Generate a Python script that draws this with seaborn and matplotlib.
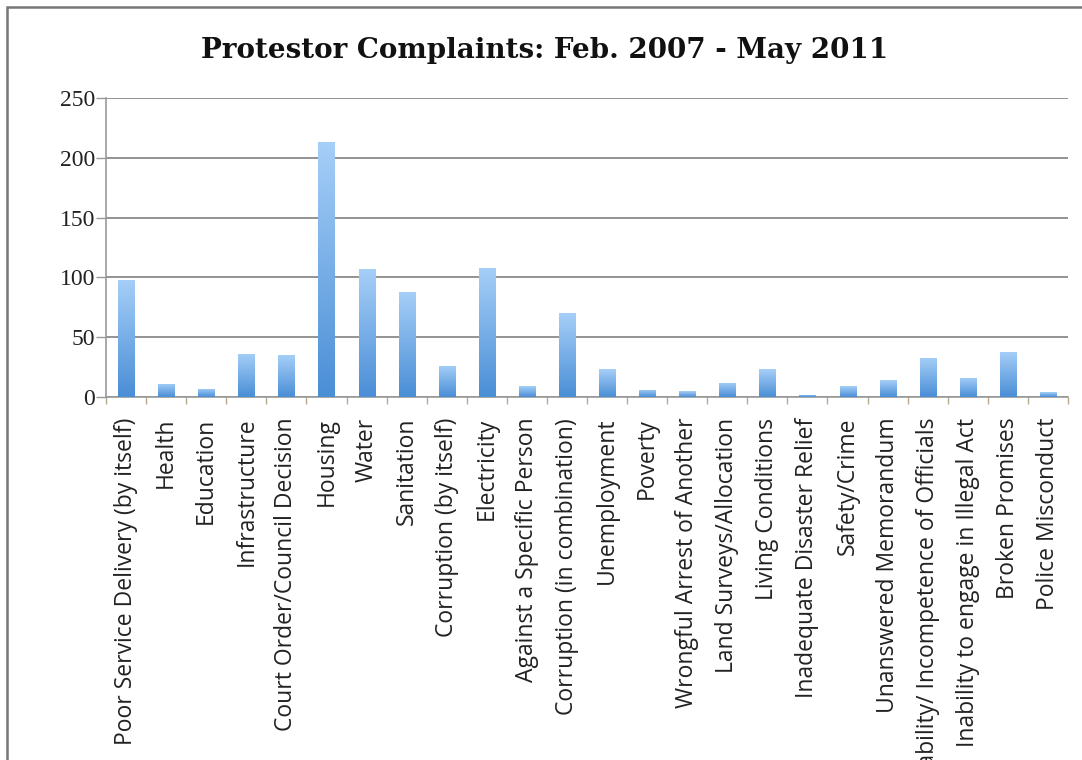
import numpy as np
import pandas as pd
import matplotlib
matplotlib.use("Agg")
import matplotlib.pyplot as plt
import seaborn as sns
from matplotlib.patches import Rectangle
from matplotlib.colors import LinearSegmentedColormap

categories = [
    "Poor Service Delivery (by itself)", "Health", "Education", "Infrastructure",
    "Court Order/Council Decision", "Housing", "Water", "Sanitation",
    "Corruption (by itself)", "Electricity", "Against a Specific Person",
    "Corruption (in combination)", "Unemployment", "Poverty",
    "Wrongful Arrest of Another", "Land Surveys/Allocation", "Living Conditions",
    "Inadequate Disaster Relief", "Safety/Crime", "Unanswered Memorandum",
    "Inability/ Incompetence of Officials", "Inability to engage in Illegal Act",
    "Broken Promises", "Police Misconduct",
]
values = [98, 11, 7, 36, 35, 213, 107, 88, 26, 108, 9, 70,
          23, 6, 5, 12, 23, 2, 9, 14, 33, 16, 38, 4]
yticks = [0, 50, 100, 150, 200, 250]
title = "Protestor Complaints: Feb. 2007 - May 2011"

sns.set_style("white")
plt.rcParams["font.family"] = ["DejaVu Sans"]

W, H = 1082, 760
fig = plt.figure(figsize=(W / 100, H / 100), dpi=100)
fig.patch.set_facecolor("white")

left, right, top, bottom = 106, 1068, 98, 397
ax = fig.add_axes([left / W, 1 - bottom / H, (right - left) / W, (bottom - top) / H])

df = pd.DataFrame({"cat": categories, "val": values})
sns.barplot(data=df, x="cat", y="val", ax=ax, width=0.4, color="#6aa8e8",
            saturation=1, order=categories)

# gradient fill for bars
cmap = LinearSegmentedColormap.from_list("bar", ["#4a8ed6", "#a6cff8"])
grad = np.linspace(0, 1, 256).reshape(-1, 1)
for p in ax.patches:
    x0 = p.get_x()
    w = p.get_width()
    h = p.get_height()
    im = ax.imshow(grad, cmap=cmap, origin="lower", aspect="auto",
                   extent=(x0, x0 + w, 0, h), zorder=3)
    im.set_clip_path(p)
    p.set_facecolor("none")
    p.set_edgecolor("none")
ax.set_xlim(-0.5, len(categories) - 0.5)
ax.set_ylim(0, 250)

# grid
ax.set_yticks(yticks)
ax.yaxis.grid(True, color="#8a8a8a", linewidth=1.3)
ax.set_axisbelow(True)
for s in ["top", "right"]:
    ax.spines[s].set_visible(False)
ax.spines["left"].set_color("#9a9a9a")
ax.spines["left"].set_linewidth(1.2)
ax.spines["bottom"].set_color("#9a9a9a")
ax.spines["bottom"].set_linewidth(1.2)

ax.set_xlabel("")
ax.set_ylabel("")

ax.set_yticklabels([str(v) for v in yticks], fontfamily="Liberation Serif",
                   fontsize=17, color="#222222")
ax.tick_params(axis="y", direction="out", length=7, width=1, color="#9a9a9a",
               pad=1, left=True)

ax.set_xticks(range(len(categories)))
ax.set_xticklabels(categories, rotation=90, fontfamily="Open Sans", fontsize=16.5,
                   color="#222222")
ax.tick_params(axis="x", which="major", length=0, pad=15)
ax.set_xticks(np.arange(-0.5, len(categories), 1), minor=True)
ax.tick_params(axis="x", which="minor", direction="out", length=5, width=1,
               color="#b8a890", bottom=True)

fig.text(545 / W, 1 - 51 / H, title, ha="center", va="center",
         fontfamily="DejaVu Serif", fontweight="bold", fontsize=20,
         color="#111111")

# outer frame of the chart box
fig.patches.append(Rectangle((7 / W, -0.05), 1.2, (H - 7) / H + 0.05,
                             transform=fig.transFigure, fill=False,
                             edgecolor="#777777", linewidth=1.8, zorder=0))

fig.savefig("out.png", dpi=100)
